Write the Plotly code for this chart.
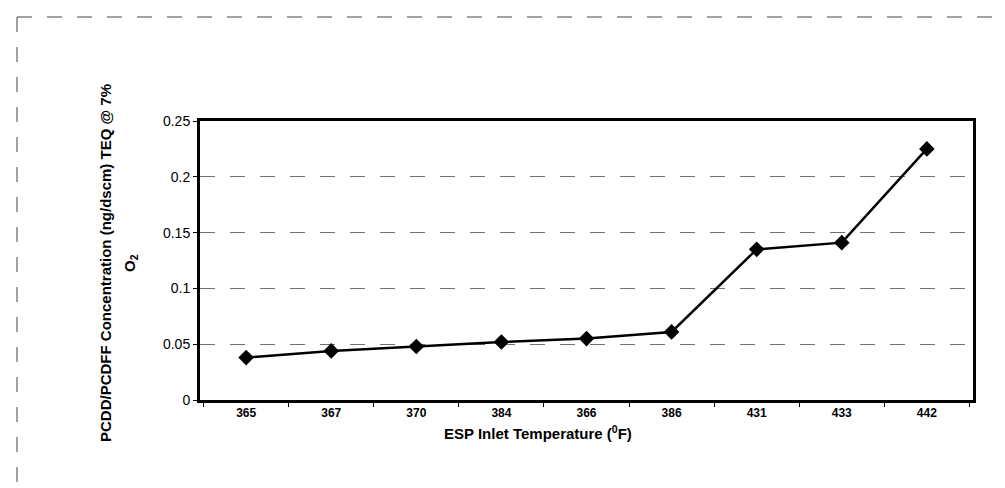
import plotly.graph_objects as go

temps = ["365", "367", "370", "384", "366", "386", "431", "433", "442"]
teq = [0.038, 0.044, 0.048, 0.052, 0.055, 0.061, 0.135, 0.141, 0.225]

fig = go.Figure()
fig.add_trace(go.Scatter(
    x=temps, y=teq, mode="lines+markers",
    line=dict(color="black", width=2.5),
    marker=dict(symbol="diamond", size=12, color="black"),
    showlegend=False,
))

L, R, T, B = 192, 40, 113, 96
pw = 1005 - L - R
ph = 488 - T - B

fig.update_layout(
    width=1005, height=488,
    margin=dict(l=L, r=R, t=T, b=B),
    paper_bgcolor="white", plot_bgcolor="white",
    font=dict(family="Liberation Sans, Arial, sans-serif", color="black"),
    xaxis=dict(
        type="category", categoryorder="array", categoryarray=temps,
        showline=True, linecolor="black", linewidth=3, mirror=True,
        ticks="outside", tickson="boundaries", ticklen=4, tickcolor="black",
        tickfont=dict(size=12, family="Liberation Sans Narrow, Liberation Sans, Arial", weight="bold"),
        showgrid=False, zeroline=False,
    ),
    yaxis=dict(
        range=[0, 0.25], dtick=0.05,
        showline=True, linecolor="black", linewidth=3, mirror=True,
        ticks="outside", ticklen=4, tickcolor="black",
        tickfont=dict(size=14),
        showgrid=True, gridcolor="#707070", gridwidth=1, griddash="longdash",
        zeroline=False,
    ),
)

# axis titles as annotations
fig.add_annotation(
    text="<b>ESP Inlet Temperature (<sup>0</sup>F)</b>",
    xref="paper", yref="paper", x=(530 - L) / pw, y=(392 - 424) / ph,
    showarrow=False, font=dict(size=15, family="Liberation Sans Narrow, Liberation Sans, Arial"),
    xanchor="center", yanchor="middle",
)
fig.add_annotation(
    text="<b>PCDD/PCDFF Concentration (ng/dscm) TEQ @ 7%</b>",
    xref="paper", yref="paper", x=(98 - L) / pw, y=(392 - 255) / ph,
    showarrow=False, textangle=-90, font=dict(size=15),
    xanchor="center", yanchor="middle",
)
fig.add_annotation(
    text="<b>O<sub>2</sub></b>",
    xref="paper", yref="paper", x=(123 - L) / pw, y=(392 - 255) / ph,
    showarrow=False, textangle=-90, font=dict(size=15),
    xanchor="center", yanchor="middle",
)

# outer frame lines (scanned page border)
x0 = (9 - L) / pw
ytop = (392 - 9) / ph
ybot = (392 - 488) / ph
fig.add_shape(type="line", xref="paper", yref="paper", x0=x0, x1=(1005 - L) / pw, y0=ytop, y1=ytop,
              line=dict(color="#444444", width=1, dash="longdash"))
fig.add_shape(type="line", xref="paper", yref="paper", x0=x0, x1=x0, y0=ytop, y1=ybot,
              line=dict(color="#444444", width=1, dash="longdash"))

fig.write_html("out.html")
